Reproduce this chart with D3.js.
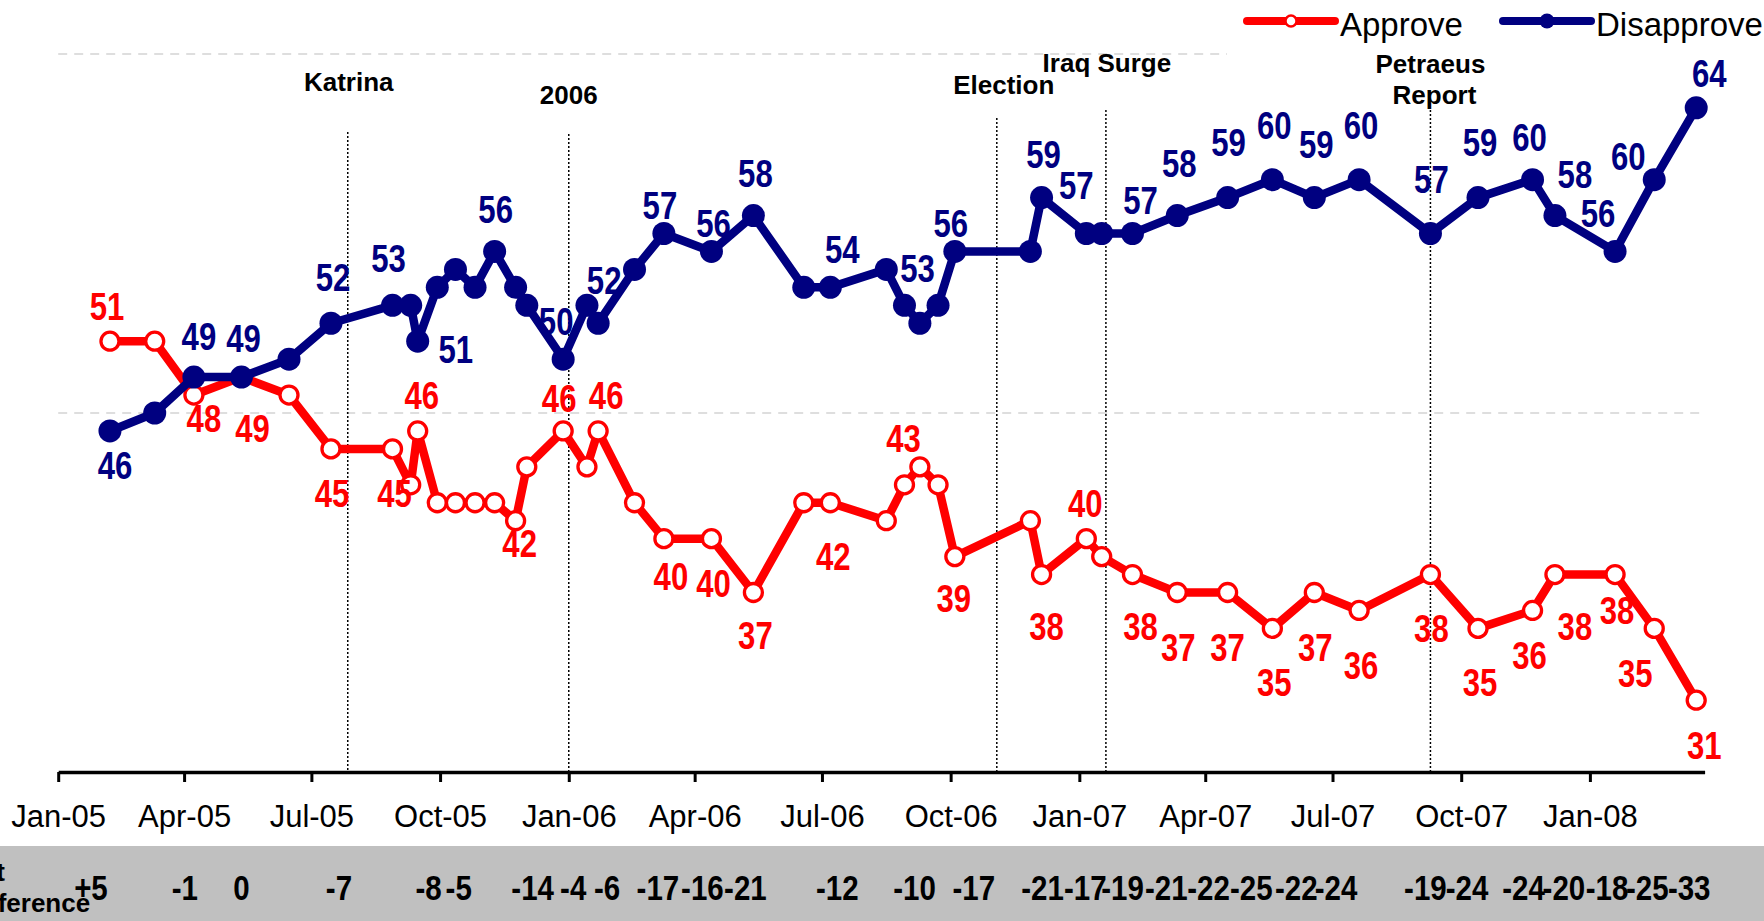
<!DOCTYPE html>
<html lang="en">
<head>
<meta charset="utf-8">
<title>Approve / Disapprove</title>
<script src="https://cdn.jsdelivr.net/npm/d3@7"></script>
<style>
  body { margin: 0; background: #fff; }
  svg { display: block; font-family: "Liberation Sans", Arial, sans-serif; }
</style>
</head>
<body>
<svg width="1764" height="921"></svg>
<script>
// survey dates (one per poll)
var dates = ["2005-02-07","2005-03-11","2005-04-08","2005-05-12","2005-06-15","2005-07-15",
  "2005-08-28","2005-09-10","2005-09-15","2005-09-29","2005-10-12","2005-10-26","2005-11-09",
  "2005-11-24","2005-12-02","2005-12-28","2006-01-14","2006-01-22","2006-02-17","2006-03-10",
  "2006-04-13","2006-05-13","2006-06-18","2006-07-07","2006-08-16","2006-08-29","2006-09-09",
  "2006-09-22","2006-10-04","2006-11-27","2006-12-05","2007-01-06","2007-01-17","2007-02-08",
  "2007-03-12","2007-04-17","2007-05-19","2007-06-18","2007-07-20","2007-09-09","2007-10-13",
  "2007-11-21","2007-12-07","2008-01-19","2008-02-16","2008-03-17"];

var approve = [51,51,48,49,48,45,45,43,46,42,42,42,42,41,44,46,44,46,42,40,40,37,42,42,41,
  43,44,43,39,41,38,40,39,38,37,37,35,37,36,38,35,36,38,38,35,31];

var disapprove = [46,47,49,49,50,52,53,53,51,54,55,54,56,54,53,50,53,52,55,57,56,58,54,54,55,
  53,52,53,56,56,59,57,57,57,58,59,60,59,60,57,59,60,58,56,60,64];

var events = [
  {date: "2005-07-27", text: ["Katrina"]},
  {date: "2006-01-01", text: ["2006"]},
  {date: "2006-11-03", text: ["Election"]},
  {date: "2007-01-20", text: ["Iraq Surge"]},
  {date: "2007-09-09", text: ["Petraeus", "Report"]}
];

var gridValues = [47, 67];
var seriesNames = ["Approve", "Disapprove"];

// which points carry a value label: [index, dx, dy] (label centre offset from the point)
var approveLabels = [[0,-3,-35],[2,10,23],[3,11,51],[5,1,44],[6,2,44],[8,4,-36],[12,25,41],
  [15,-4,-33],[17,8,-36],[19,7,38],[20,2,45],[21,2,43],[23,3,54],[25,-1,-46],[28,-1,42],
  [30,5,52],[31,-1,-35],[33,8,52],[34,1,55],[35,0,55],[36,2,54],[37,1,55],[38,2,55],
  [39,1,54],[40,2,54],[41,-3,45],[42,20,52],[43,2,36],[44,-19,45],[45,8,45]];
var disapproveLabels = [[0,5,34],[2,5,-41],[3,2,-39],[5,2,-46],[6,-4,-47],[8,38,8],[12,1,-42],
  [15,-7,-38],[17,6,-43],[19,-4,-28],[20,2,-28],[21,2,-42],[23,12,-38],[25,13,-37],[28,-4,-28],
  [30,2,-43],[31,-10,-48],[33,8,-33],[34,2,-52],[35,1,-55],[36,2,-54],[37,2,-53],[38,2,-54],
  [39,1,-54],[40,2,-55],[41,-3,-42],[42,20,-41],[43,-17,-38],[44,-26,-23],[45,13,-35]];
// net difference row: [index, dx]
var diffLabels = [[0,-19],[2,-9],[3,0],[5,8],[6,36],[8,41],[12,38],[15,10],[17,9],[19,-6],
  [20,-9],[21,-8],[23,7],[25,10],[28,19],[30,1],[31,-1],[33,-10],[34,-11],[35,-19],[36,-21],
  [37,-18],[38,-23],[39,-5],[40,-11],[41,-9],[42,9],[43,-8],[44,-7],[45,-7]];

var parse = d3.timeParse("%Y-%m-%d");
var data = dates.map(function(d, i) {
  return {date: parse(d), approve: approve[i], disapprove: disapprove[i]};
});

var svg = d3.select("svg");
var red = "#ff0000", navy = "#000080";
var axisY = 772;

var x = d3.scaleTime()
  .domain([new Date(2005, 0, 1), new Date(2008, 2, 23)])
  .range([58.2, 1704.6]);
var y = d3.scaleLinear().domain([27, 67]).range([axisY, 54]);

// grey band for the net difference row
svg.append("rect").attr("x", 0).attr("y", 846).attr("width", 1764).attr("height", 75)
  .attr("fill", "#c0c0c0");

// dashed gridlines
svg.selectAll(".grid").data(gridValues).enter().append("line")
  .attr("x1", x.range()[0]).attr("x2", x.range()[1])
  .attr("y1", function(d) { return y(d); }).attr("y2", function(d) { return y(d); })
  .attr("stroke", "#d4d4d4").attr("stroke-width", 1.5).attr("stroke-dasharray", "9,7");

// legend background hides the top gridline on the right
svg.append("rect").attr("x", 1227).attr("y", 0).attr("width", 537).attr("height", 60).attr("fill", "#fff");

// event lines and labels
var ev = svg.selectAll(".event").data(events).enter().append("g");
ev.append("line")
  .attr("x1", function(d) { return x(parse(d.date)); })
  .attr("x2", function(d) { return x(parse(d.date)); })
  .attr("y1", function(d, i) { return [132, 134, 118, 110, 110][i]; })
  .attr("y2", axisY)
  .attr("stroke", "#000").attr("stroke-width", 1.5).attr("stroke-dasharray", "2,2");
ev.each(function(d, i) {
  var base = [[91], [104], [94], [72], [73, 104]][i];
  var shift = [[1], [0], [7], [1], [0, 4]][i];
  d3.select(this).selectAll("text").data(d.text).enter().append("text")
    .attr("x", function(t, j) { return x(parse(d.date)) + shift[j]; })
    .attr("y", function(t, j) { return base[j]; })
    .attr("text-anchor", "middle")
    .attr("font-size", 26).attr("font-weight", "bold").attr("fill", "#000")
    .text(function(t) { return t; });
});

// x axis
var xAxis = d3.axisBottom(x)
  .tickValues(d3.timeMonth.every(3).range(new Date(2005, 0, 1), new Date(2008, 1, 1)))
  .tickFormat(d3.timeFormat("%b-%y"))
  .tickSize(10).tickSizeOuter(0);
var gx = svg.append("g").attr("transform", "translate(0," + axisY + ")").call(xAxis);
gx.select(".domain").attr("stroke", "#000").attr("stroke-width", 3.5);
gx.selectAll(".tick line").attr("stroke", "#000").attr("stroke-width", 3);
gx.selectAll(".tick text").attr("y", 55).attr("dy", 0)
  .attr("font-size", 31).attr("font-family", "Liberation Sans, Arial, sans-serif").attr("fill", "#000");

// series
function drawSeries(key, color, hollow) {
  var line = d3.line().x(function(d) { return x(d.date); }).y(function(d) { return y(d[key]); });
  svg.append("path").datum(data).attr("d", line)
    .attr("fill", "none").attr("stroke", color).attr("stroke-width", 8.5)
    .attr("stroke-linejoin", "round");
  svg.append("g").selectAll("circle").data(data).enter().append("circle")
    .attr("cx", function(d) { return x(d.date); })
    .attr("cy", function(d) { return y(d[key]); })
    .attr("r", hollow ? 9 : 11.5)
    .attr("fill", hollow ? "#fff" : color)
    .attr("stroke", hollow ? color : "none")
    .attr("stroke-width", 3.3);
}
drawSeries("approve", red, true);
drawSeries("disapprove", navy, false);

// condensed bold number labels
function narrowText(g, cx, cy, txt, color, size) {
  g.append("text")
    .attr("transform", "translate(" + cx + "," + (cy + size * 0.36) + ") scale(0.82,1)")
    .attr("text-anchor", "middle")
    .attr("font-size", size).attr("font-weight", "bold").attr("fill", color)
    .text(txt);
}
var lab = svg.append("g");
approveLabels.forEach(function(l) {
  var d = data[l[0]];
  narrowText(lab, x(d.date) + l[1], y(d.approve) + l[2], d.approve, red, 38);
});
disapproveLabels.forEach(function(l) {
  var d = data[l[0]];
  narrowText(lab, x(d.date) + l[1], y(d.disapprove) + l[2], d.disapprove, navy, 38);
});

// net difference row (plain hyphen for negatives, like the original)
diffLabels.forEach(function(l) {
  var d = data[l[0]];
  var v = d.approve - d.disapprove;
  var txt = v > 0 ? "+" + v : String(v);
  narrowText(lab, x(d.date) + l[1], 887, txt, "#000", 36);
});
svg.append("text").attr("x", -37).attr("y", 881).attr("font-size", 26).attr("font-weight", "bold").text("Net");
svg.append("text").attr("x", -37).attr("y", 912).attr("font-size", 26).attr("font-weight", "bold").text("Difference");

// legend
var legend = svg.append("g");
var legItems = [
  {name: seriesNames[0], x: 1247, color: red, hollow: true},
  {name: seriesNames[1], x: 1503, color: navy, hollow: false}
];
legItems.forEach(function(it) {
  legend.append("line").attr("x1", it.x).attr("x2", it.x + 88).attr("y1", 21).attr("y2", 21)
    .attr("stroke", it.color).attr("stroke-width", 8).attr("stroke-linecap", "round");
  legend.append("circle").attr("cx", it.x + 44).attr("cy", 21).attr("r", it.hollow ? 5.5 : 7.5)
    .attr("fill", it.hollow ? "#fff" : it.color)
    .attr("stroke", it.hollow ? it.color : "none").attr("stroke-width", 2.5);
  legend.append("text").attr("x", it.x + 93).attr("y", 36)
    .attr("font-size", 33).attr("fill", "#000").text(it.name);
});
</script>
</body>
</html>
